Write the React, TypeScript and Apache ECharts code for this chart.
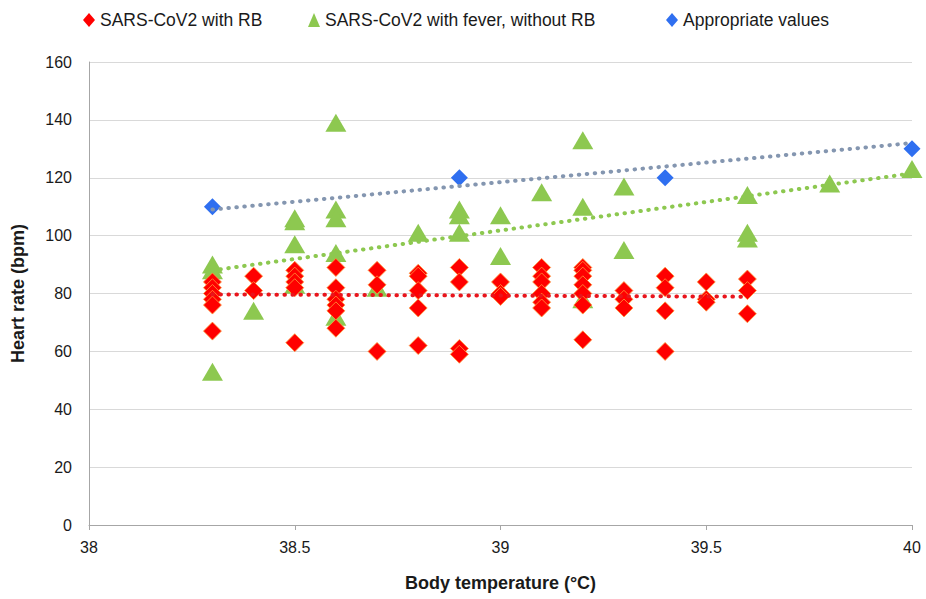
import React, { useEffect, useRef } from "react";
import * as echarts from "echarts";

// SARS-CoV2 with RB: [body temperature, heart rate]
const rbPoints: [number, number][] = [
  [38.3, 84], [38.3, 82], [38.3, 80], [38.3, 78], [38.3, 76], [38.3, 67],
  [38.4, 86], [38.4, 81],
  [38.5, 88], [38.5, 86], [38.5, 84], [38.5, 82], [38.5, 63],
  [38.6, 89], [38.6, 82], [38.6, 78], [38.6, 76], [38.6, 74], [38.6, 68],
  [38.7, 88], [38.7, 83], [38.7, 60],
  [38.8, 87], [38.8, 86], [38.8, 81], [38.8, 75], [38.8, 62],
  [38.9, 89], [38.9, 84], [38.9, 61], [38.9, 59],
  [39.0, 84], [39.0, 80], [39.0, 79],
  [39.1, 89], [39.1, 86], [39.1, 84], [39.1, 80], [39.1, 77], [39.1, 75],
  [39.2, 89], [39.2, 88], [39.2, 86], [39.2, 83], [39.2, 80], [39.2, 76], [39.2, 64],
  [39.3, 81], [39.3, 78], [39.3, 75],
  [39.4, 86], [39.4, 82], [39.4, 74], [39.4, 60],
  [39.5, 84], [39.5, 78], [39.5, 77],
  [39.6, 85], [39.6, 81], [39.6, 73],
];

// SARS-CoV2 with fever, without RB
const feverPoints: [number, number][] = [
  [38.3, 90], [38.3, 88], [38.3, 53],
  [38.4, 74],
  [38.5, 106], [38.5, 105], [38.5, 97], [38.5, 83],
  [38.6, 139], [38.6, 109], [38.6, 106], [38.6, 94], [38.6, 72],
  [38.7, 82],
  [38.8, 101],
  [38.9, 109], [38.9, 107], [38.9, 101],
  [39.0, 107], [39.0, 93],
  [39.1, 115],
  [39.2, 133], [39.2, 110], [39.2, 78],
  [39.3, 117], [39.3, 95],
  [39.6, 114], [39.6, 101], [39.6, 99],
  [39.8, 118],
  [40.0, 123],
];

// Appropriate values
const appropriatePoints: [number, number][] = [
  [38.3, 110], [38.9, 120], [39.4, 120], [40.0, 130],
];

// Trend line end points
const rbTrend: [number, number][] = [[38.3, 79.7], [39.6, 78.9]];
const feverTrend: [number, number][] = [[38.3, 88], [40.0, 121.5]];
const appropriateTrend: [number, number][] = [[38.3, 109], [40.0, 132]];

const seriesNames = [
  "SARS-CoV2 with RB",
  "SARS-CoV2 with fever, without RB",
  "Appropriate values",
];

const FONT = "Liberation Sans";

export default function App() {
  const ref = useRef<HTMLDivElement>(null);
  useEffect(() => {
    if (!ref.current) return;
    const chart = echarts.init(ref.current, undefined, { renderer: "svg" });
    const dotted = (color: string) => ({
      color,
      width: 4,
      type: [0.5, 7.5] as number[],
      cap: "round" as const,
    });
    const legendBase = {
      top: 6,
      itemWidth: 12,
      itemHeight: 14,
      textStyle: { fontSize: 17.5, color: "#1a1a1a", fontFamily: FONT },
    };
    chart.setOption({
      animation: false,
      textStyle: { fontFamily: FONT },
      legend: [
        {
          ...legendBase,
          left: 78,
          data: [{ name: seriesNames[0], icon: "diamond", itemStyle: { color: "#FF0000", borderWidth: 0 } }],
        },
        {
          ...legendBase,
          left: 303,
          data: [{ name: seriesNames[1], icon: "triangle", itemStyle: { color: "#8DC850", borderWidth: 0 } }],
        },
        {
          ...legendBase,
          left: 661,
          data: [{ name: seriesNames[2], icon: "diamond", itemStyle: { color: "#2F6FF0", borderWidth: 0 } }],
        },
      ],
      grid: { left: 89, right: 14, top: 62, bottom: 74, outerBoundsMode: "none", containLabel: false },
      xAxis: {
        type: "value",
        min: 38,
        max: 40,
        interval: 0.5,
        name: "Body temperature (°C)",
        nameLocation: "middle",
        nameGap: 49,
        nameTextStyle: { fontSize: 18, fontWeight: "bold", color: "#1a1a1a", fontFamily: FONT },
        axisLine: { show: true, lineStyle: { color: "#A6A6A6", width: 1 } },
        axisTick: { show: true, length: 5, lineStyle: { color: "#A6A6A6" } },
        axisLabel: { fontSize: 16, color: "#1a1a1a", margin: 14, fontFamily: FONT },
        splitLine: { show: false },
      },
      yAxis: {
        type: "value",
        min: 0,
        max: 160,
        interval: 20,
        name: "Heart rate (bpm)",
        nameLocation: "middle",
        nameGap: 62,
        nameTextStyle: { fontSize: 18, fontWeight: "bold", color: "#1a1a1a", fontFamily: FONT },
        axisLine: { show: true, lineStyle: { color: "#A6A6A6", width: 1 } },
        axisTick: { show: false },
        axisLabel: { fontSize: 16, color: "#1a1a1a", margin: 17, fontFamily: FONT },
        splitLine: { show: true, lineStyle: { color: "#D9D9D9", width: 1 } },
      },
      series: [
        {
          name: seriesNames[1],
          type: "scatter",
          symbol: "triangle",
          symbolSize: [21, 18],
          data: feverPoints,
          z: 2,
          itemStyle: { color: "#8DC850", opacity: 1 },
        },
        {
          name: seriesNames[0],
          type: "scatter",
          symbol: "diamond",
          symbolSize: [18, 18],
          data: rbPoints,
          z: 3,
          itemStyle: { color: "#FF0000", borderColor: "#FF9A3C", borderWidth: 0.8, opacity: 1 },
        },
        {
          name: seriesNames[2],
          type: "scatter",
          symbol: "diamond",
          symbolSize: [17, 17],
          data: appropriatePoints,
          z: 4,
          itemStyle: { color: "#2F6FF0", opacity: 1 },
        },
        {
          name: "rbTrend",
          type: "line",
          data: rbTrend,
          symbol: "none",
          z: 5,
          lineStyle: dotted("#E8151C"),
          silent: true,
        },
        {
          name: "feverTrend",
          type: "line",
          data: feverTrend,
          symbol: "none",
          z: 5,
          lineStyle: dotted("#8DC850"),
          silent: true,
        },
        {
          name: "appropriateTrend",
          type: "line",
          data: appropriateTrend,
          symbol: "none",
          z: 5,
          lineStyle: dotted("#8496B0"),
          silent: true,
        },
      ],
    });
    return () => chart.dispose();
  }, []);
  return (
    <div
      ref={ref}
      style={{ position: "fixed", left: 0, top: 0, width: 926, height: 599, background: "#ffffff" }}
    />
  );
}
